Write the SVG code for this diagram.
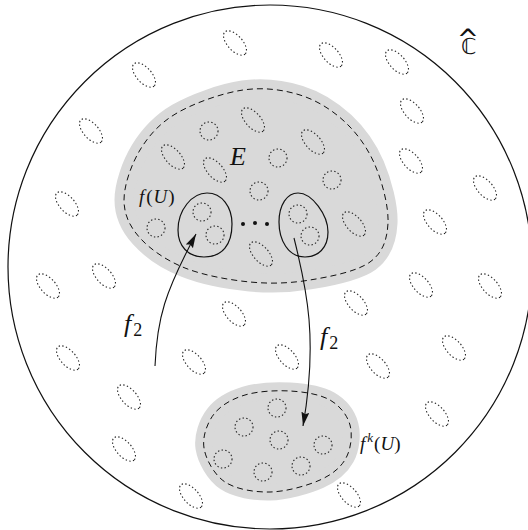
<svg xmlns="http://www.w3.org/2000/svg" width="528" height="530" viewBox="0 0 528 530">
<style>
.el{fill:none;stroke:#222;stroke-width:1.1;stroke-dasharray:1.4 2.3}
.halo{fill:#d9d9d9;stroke:#d9d9d9;stroke-linejoin:round}
.dash{fill:none;stroke:#111;stroke-width:1;stroke-dasharray:6 4}
.solid{fill:none;stroke:#111;stroke-width:1.2}
.m{font-family:"Liberation Serif",serif;fill:#111}
.i{font-style:italic}
</style>
<defs>
<marker id="ah" markerUnits="userSpaceOnUse" markerWidth="15" markerHeight="9" refX="14" refY="4" orient="auto">
<path d="M0,0 L14,4 L0,8 L2,4 z" fill="#111"/>
</marker>
<ellipse id="e" cx="0" cy="0" rx="15" ry="7.5" transform="rotate(48)"/>
<circle id="c" cx="0" cy="0" r="9"/>
</defs>
<rect width="528" height="530" fill="#fff"/>
<g id="sphere">
<circle cx="270" cy="267" r="262" fill="none" stroke="#111" stroke-width="1.2"/>
<text class="m" x="461" y="54" style="font-family:'DejaVu Sans',sans-serif" font-size="22">ℂ<tspan x="457" y="48" font-size="26">^</tspan></text>
</g>
<g id="outside" class="el">
<use href="#e" x="235" y="43"/><use href="#e" x="144" y="75"/><use href="#e" x="91" y="131"/>
<use href="#e" x="67" y="204"/><use href="#e" x="331" y="55"/><use href="#e" x="397" y="62"/>
<use href="#e" x="412" y="111"/><use href="#e" x="411" y="161"/><use href="#e" x="485" y="188"/>
<use href="#e" x="435" y="222"/><use href="#e" x="48" y="286"/><use href="#e" x="104" y="276"/>
<use href="#e" x="234" y="314"/><use href="#e" x="68" y="358"/><use href="#e" x="194" y="362"/>
<use href="#e" x="129" y="397"/><use href="#e" x="124" y="449"/><use href="#e" x="191" y="496"/>
<use href="#e" x="421" y="285"/><use href="#e" x="490" y="286"/><use href="#e" x="356" y="303"/>
<use href="#e" x="287" y="357"/><use href="#e" x="454" y="348"/><use href="#e" x="378" y="366"/>
<use href="#e" x="437" y="414"/><use href="#e" x="349" y="495"/>
</g>
<g id="E">
<path class="halo" stroke-width="19" d="M124,200 C124,185.3 131.2,164.5 140,150 C148.8,135.5 159.8,123 177,113 C194.2,103 222.5,93 243,90 C263.5,87 283,89.7 300,95 C317,100.3 332.5,110.3 345,122 C357.5,133.7 367.8,148.2 375,165 C382.2,181.8 388.8,206.8 388,223 C387.2,239.2 383,252.5 370,262 C357,271.5 330,276.7 310,280 C290,283.3 270.8,284 250,282 C229.2,280 203.3,275.3 185,268 C166.7,260.7 150.2,249.3 140,238 C129.8,226.7 124,214.7 124,200 Z"/>
<path class="dash" d="M124,200 C124,185.3 131.2,164.5 140,150 C148.8,135.5 159.8,123 177,113 C194.2,103 222.5,93 243,90 C263.5,87 283,89.7 300,95 C317,100.3 332.5,110.3 345,122 C357.5,133.7 367.8,148.2 375,165 C382.2,181.8 388.8,206.8 388,223 C387.2,239.2 383,252.5 370,262 C357,271.5 330,276.7 310,280 C290,283.3 270.8,284 250,282 C229.2,280 203.3,275.3 185,268 C166.7,260.7 150.2,249.3 140,238 C129.8,226.7 124,214.7 124,200 Z"/>
<g class="el">
<use href="#c" x="209" y="131"/><use href="#e" x="253" y="120"/><use href="#e" x="173" y="157"/>
<use href="#e" x="215" y="170"/><use href="#c" x="278" y="158"/><use href="#e" x="313" y="142"/>
<use href="#c" x="332" y="180"/><use href="#c" x="259" y="191"/><use href="#c" x="156" y="228"/>
<use href="#c" x="202" y="212"/><use href="#c" x="215" y="235"/><use href="#e" x="261" y="254"/>
<use href="#c" x="298" y="214"/><use href="#c" x="310" y="236"/><use href="#e" x="354" y="224"/>
</g>
<text class="m i" x="230" y="165" font-size="26">E</text>
</g>
<g id="fU">
<path class="solid" d="M207,193 C222,193 232,207 232,224 C232,245 222,257 204,257 C188,257 178,246 178,230 C178,210 192,193 207,193 Z"/>
<text class="m" x="139" y="203" font-size="19" letter-spacing="1"><tspan class="i">f</tspan><tspan dx="1">(</tspan><tspan class="i">U</tspan>)</text>
</g>
<g id="fU2">
<path class="solid" d="M298,193 C312,193 328,215 328,232 C328,248 318,257 305,257 C288,257 279,240 279,222 C279,205 287,193 298,193 Z"/>
</g>
<g id="dots" fill="#111">
<circle cx="243" cy="224" r="2"/><circle cx="255" cy="223" r="2"/><circle cx="267" cy="224" r="2"/>
</g>
<g id="fkU">
<path class="halo" stroke-width="17" d="M204,448 C202.2,436.7 207.2,422.8 214,414 C220.8,405.2 232.3,398.8 245,395 C257.7,391.2 275.8,390.2 290,391 C304.2,391.8 320,394.3 330,400 C340,405.7 347.3,415.3 350,425 C352.7,434.7 351,448.8 346,458 C341,467.2 332.7,474.3 320,480 C307.3,485.7 285.8,491.7 270,492 C254.2,492.3 236,489.3 225,482 C214,474.7 205.8,459.3 204,448 Z"/>
<path class="dash" d="M204,448 C202.2,436.7 207.2,422.8 214,414 C220.8,405.2 232.3,398.8 245,395 C257.7,391.2 275.8,390.2 290,391 C304.2,391.8 320,394.3 330,400 C340,405.7 347.3,415.3 350,425 C352.7,434.7 351,448.8 346,458 C341,467.2 332.7,474.3 320,480 C307.3,485.7 285.8,491.7 270,492 C254.2,492.3 236,489.3 225,482 C214,474.7 205.8,459.3 204,448 Z"/>
<g class="el">
<use href="#c" x="277" y="408"/><use href="#c" x="244" y="427"/><use href="#c" x="279" y="440"/>
<use href="#c" x="323" y="445"/><use href="#c" x="223" y="459"/><use href="#c" x="263" y="472"/>
<use href="#c" x="301" y="466"/>
</g>
<text class="m" x="360" y="450" font-size="19"><tspan class="i">f</tspan><tspan class="i" font-size="13" dx="2" dy="-8">k</tspan><tspan dx="1" dy="8">(</tspan><tspan class="i">U</tspan>)</text>
</g>
<g id="connectors" fill="none" stroke="#111" stroke-width="1.1">
<path d="M155,366 C157,318 165,292 196,234" marker-end="url(#ah)"/>
<path d="M294,238 C307,290 318,340 303,426" marker-end="url(#ah)"/>
</g>
<g id="labels">
<text class="m" x="124" y="332" font-size="26"><tspan class="i">f</tspan><tspan font-size="18" dx="2" dy="4">2</tspan></text>
<text class="m" x="320" y="345" font-size="26"><tspan class="i">f</tspan><tspan font-size="18" dx="2" dy="4">2</tspan></text>
</g>
</svg>
